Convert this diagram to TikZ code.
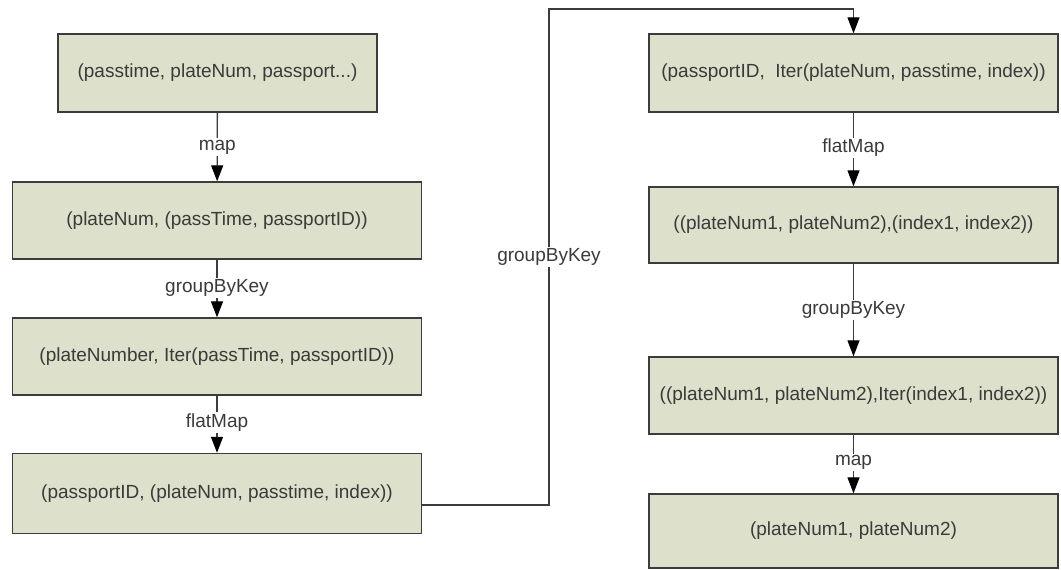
\documentclass[tikz,border=0pt]{standalone}
\usepackage{fontspec}
\setmainfont{Liberation Sans}
\usetikzlibrary{arrows.meta,calc}
\definecolor{boxfill}{HTML}{DDE1CB}
\definecolor{boxline}{HTML}{3C3C3C}
\definecolor{txt}{HTML}{3A3A3A}
\begin{document}
\begin{tikzpicture}[x=1pt,y=-1pt,
  every node/.style={font=\fontsize{19}{22}\selectfont, text=txt},
  stagebox/.style={draw=boxline, line width=1.4pt, fill=boxfill, rectangle, inner sep=0pt, minimum width=409pt},
  conn/.style={draw=boxline, line width=1.3pt, -{Triangle[width=12pt,length=16pt,color=black]}},
  lbl/.style={fill=white, inner sep=1.5pt}
]
\useasboundingbox (0,0) rectangle (1061,570);
% left column
\node[stagebox, minimum width=319pt, minimum height=78pt] (L1) at (217.5,73) {(passtime, plateNum, passport...)};
\node[stagebox, minimum height=77pt] (L2) at (217,220.5) {(plateNum, (passTime, passportID))};
\node[stagebox, minimum height=77pt] (L3) at (217,356.5) {(plateNumber, Iter(passTime, passportID))};
\node[stagebox, minimum height=80pt] (L4) at (217,493.5) {(passportID, (plateNum, passtime, index))};
% right column
\node[stagebox, minimum height=78pt] (R1) at (853.5,73) {(passportID,\ \ Iter(plateNum, passtime, index))};
\node[stagebox, minimum height=76pt] (R2) at (853.5,225) {((plateNum1, plateNum2),(index1, index2))};
\node[stagebox, minimum height=77pt] (R3) at (853.5,395.5) {((plateNum1, plateNum2),Iter(index1, index2))};
\node[stagebox, minimum height=74pt] (R4) at (853.5,531) {(plateNum1, plateNum2)};
% connectors
\draw[conn] (L1) -- node[lbl, pos=0.5] {map} (L2);
\draw[conn] (L2) -- node[lbl, pos=0.49] {groupByKey} (L3);
\draw[conn] (L3) -- node[lbl, pos=0.47] {flatMap} (L4);
\draw[conn] (R1) -- node[lbl, pos=0.48] {flatMap} (R2);
\draw[conn] (R2) -- node[lbl, pos=0.5] {groupByKey} (R3);
\draw[conn] (R3) -- node[lbl, pos=0.48] {map} (R4);
\coordinate (k1) at (549,9);
\draw[conn] ([yshift=-11.5pt]L4.east) -| node[lbl, pos=0.75] {groupByKey} (k1) -| (R1.north);
\end{tikzpicture}
\end{document}
